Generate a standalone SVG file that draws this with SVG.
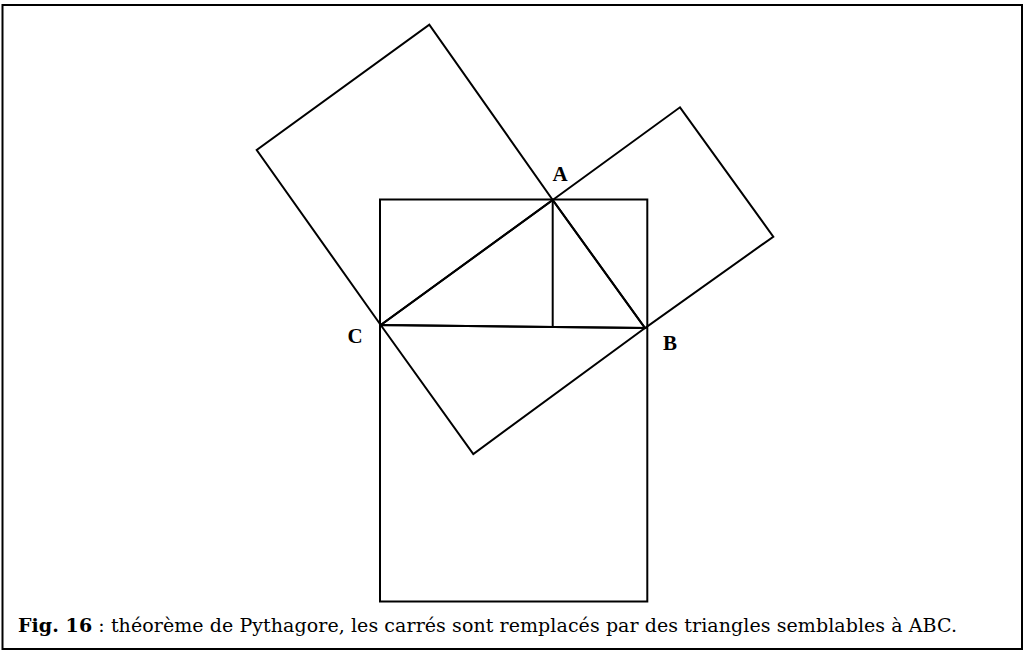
<svg xmlns="http://www.w3.org/2000/svg" width="1030" height="659" viewBox="0 0 1030 659">
<style>
.ln{fill:none;stroke:#000;stroke-width:2;stroke-linejoin:miter}
.lbl{font-family:"Liberation Serif","Times New Roman",serif;font-weight:bold;font-size:21px;fill:#000}
.cap{font-family:"DejaVu Serif","Liberation Serif",serif;font-size:19px;fill:#000}
</style>
<rect x="0" y="0" width="1030" height="659" fill="#fff"/>
<rect id="frame" class="ln" x="2.5" y="5" width="1019.5" height="644"/>
<g id="connectors">
<polygon id="square-left" class="ln" points="380.7,325 256.7,150 429.3,24.7 552.7,200"/>
<polygon id="square-right" class="ln" points="552.7,200 680,107.3 773.3,236.7 645,328"/>
<polygon id="triangle-bottom" class="ln" points="380.7,325 473.3,454 645,328"/>
<rect id="rectangle" class="ln" x="380" y="199.5" width="267.3" height="402"/>
<polyline id="triangle-abc" class="ln" points="380.7,325 552.7,200 645,328 380.7,325"/>
<line id="altitude" class="ln" x1="552.7" y1="200" x2="552.7" y2="326.5"/>
</g>
<g id="node-A"><text class="lbl" x="560" y="181" text-anchor="middle">A</text></g>
<g id="node-B"><text class="lbl" x="670" y="350" text-anchor="middle">B</text></g>
<g id="node-C"><text class="lbl" x="355" y="343" text-anchor="middle">C</text></g>
<g id="caption"><text class="cap" x="18" y="632" textLength="939" lengthAdjust="spacing"><tspan font-weight="bold">Fig. 16</tspan> : théorème de Pythagore, les carrés sont remplacés par des triangles semblables à ABC.</text></g>
</svg>
